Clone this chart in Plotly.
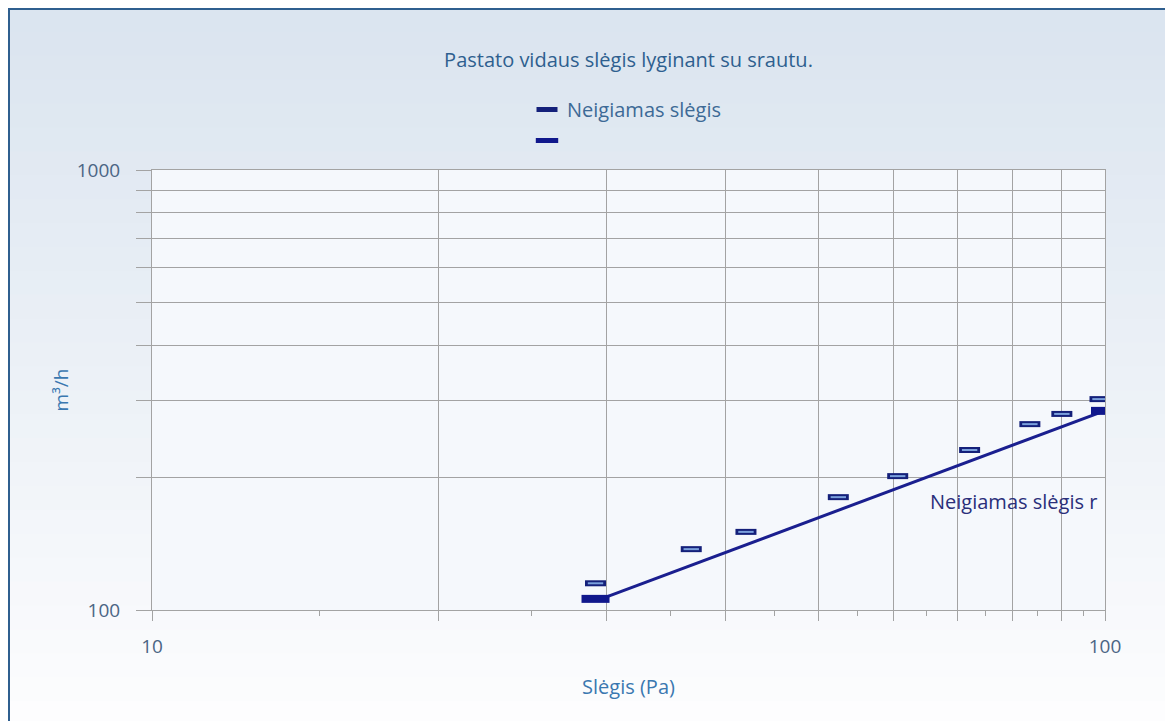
import math
import plotly.graph_objects as go

# ---- data ----
pressure = [29.2, 36.8, 42.0, 52.5, 60.6, 72.1, 83.4, 90.1, 98.8]
flow = [115, 137.5, 150.5, 180.5, 201.5, 231, 264.5, 279, 301.5]
fit_x = [29.2, 100]
fit_y = [106, 283.5]
line_x = [29.8, 100]
line_y = [106.5, 284]

series_name = "Neigiamas slėgis"
line_label = "Neigiamas slėgis r"
title_text = "Pastato vidaus slėgis lyginant su srautu."
x_title = "Slėgis (Pa)"
y_title = "m³/h"

x_grid = [10, 20, 30, 40, 50, 60, 70, 80, 90, 100]
x_text = ["10", "", "", "", "", "", "", "", "", "100"]
x_minor = [15, 25, 35, 45, 55, 65, 75, 85, 95]
y_grid = [100, 200, 300, 400, 500, 600, 700, 800, 900, 1000]
y_text = ["100", "", "", "", "", "", "", "", "", "1000"]

FONT = "Open Sans"
NAVY = "#10188c"
OFF = 8  # page body margin
FW, FH = 1173 - OFF, 721 - OFF

fig = go.Figure()

fig.add_trace(go.Scatter(
    x=line_x, y=line_y, mode="lines", showlegend=False, hoverinfo="skip",
    line=dict(color="#1a1f8f", width=3)))

fig.add_trace(go.Scatter(
    x=pressure, y=flow, mode="markers", name=series_name,
    legendgroup="a",
    marker=dict(symbol="line-ew", size=15, line=dict(color="#14207a", width=6))))
fig.add_trace(go.Scatter(
    x=pressure, y=flow, mode="markers", showlegend=False, hoverinfo="skip",
    marker=dict(symbol="line-ew", size=11, line=dict(color="#7aa0dc", width=2))))

fig.add_trace(go.Scatter(
    x=fit_x, y=fit_y, mode="markers", name=" ",
    legendgroup="b",
    marker=dict(symbol="line-ew", size=20, line=dict(color=NAVY, width=8))))

# page-pixel geometry of the plot area
L, R, T, B = 152, 1105, 170, 610
W, H = R - L, B - T


def px_x(p):
    return (p - L) / W


def px_y(p):
    return (B - p) / H


shapes = []
top_c = (219, 229, 240)
bot_c = (253, 253, 254)
n = 30
y0p, y1p = 8, 725
for i in range(n):
    a = y0p + (y1p - y0p) * i / n
    b = y0p + (y1p - y0p) * (i + 1) / n + 1
    t = i / (n - 1)
    c = tuple(int(top_c[k] + (bot_c[k] - top_c[k]) * t) for k in range(3))
    shapes.append(dict(type="rect", xref="paper", yref="paper", layer="below",
                       x0=px_x(8), x1=px_x(1166), y0=px_y(b), y1=px_y(a),
                       line=dict(width=0), fillcolor="rgb(%d,%d,%d)" % c))
shapes.append(dict(type="rect", xref="paper", yref="paper", layer="below",
                   x0=0, x1=1, y0=0, y1=1, line=dict(width=0), fillcolor="#f5f8fc"))
shapes.append(dict(type="rect", xref="paper", yref="paper", layer="above",
                   x0=px_x(9), x1=px_x(1167), y0=px_y(740), y1=px_y(9),
                   line=dict(color="#2f5f8f", width=2), fillcolor="rgba(0,0,0,0)"))

fig.add_annotation(x=math.log10(100), y=math.log10(176), xref="x", yref="y", text=line_label,
                   showarrow=False, xanchor="right", yanchor="middle", xshift=-6,
                   font=dict(family=FONT, size=20, color="#2a2f7a"))

fig.update_layout(
    width=FW, height=FH,
    margin=dict(l=L - OFF, r=FW - (R - OFF), t=T - OFF, b=FH - (B - OFF)),
    paper_bgcolor="#ffffff", plot_bgcolor="rgba(0,0,0,0)",
    font=dict(family=FONT, size=19, color="#4b6584"),
    title=dict(text=title_text, x=0.5, xref="paper", y=1 - (60 - OFF) / FH, yanchor="middle",
               font=dict(family=FONT, size=20, color="#2e5f8f")),
    legend=dict(x=px_x(527), y=px_y(90), xanchor="left", yanchor="top",
                bgcolor="rgba(0,0,0,0)", font=dict(family=FONT, size=20, color="#3d6a96"),
                traceorder="grouped", tracegroupgap=2, itemwidth=30),
    shapes=shapes,
    showlegend=True,
)

fig.update_xaxes(
    type="log", range=[1, 2], tickmode="array", tickvals=x_grid, ticktext=x_text,
    showgrid=True, gridcolor="#a3a3a3", gridwidth=1,
    showline=True, linecolor="#a3a3a3", mirror=True,
    ticks="outside", ticklen=10, tickcolor="#a3a3a3", ticklabelstandoff=9,
    tickfont=dict(family=FONT, size=19, color="#4b6584"),
    minor=dict(tickmode="array", tickvals=x_minor, ticks="outside", ticklen=5,
               tickcolor="#a3a3a3", showgrid=False),
    title=dict(text=x_title, standoff=22, font=dict(family=FONT, size=20, color="#3a78b0")),
    zeroline=False,
)
fig.update_yaxes(
    type="log", range=[2, 3], tickmode="array", tickvals=y_grid, ticktext=y_text,
    showgrid=True, gridcolor="#a3a3a3", gridwidth=1,
    showline=True, linecolor="#a3a3a3", mirror=True,
    ticks="outside", ticklen=15, tickcolor="#a3a3a3", ticklabelstandoff=12,
    tickfont=dict(family=FONT, size=19, color="#4b6584"),
    title=dict(text=y_title, standoff=3, font=dict(family=FONT, size=19, color="#3a78b0")),
    zeroline=False,
)

fig.write_html("out.html")
